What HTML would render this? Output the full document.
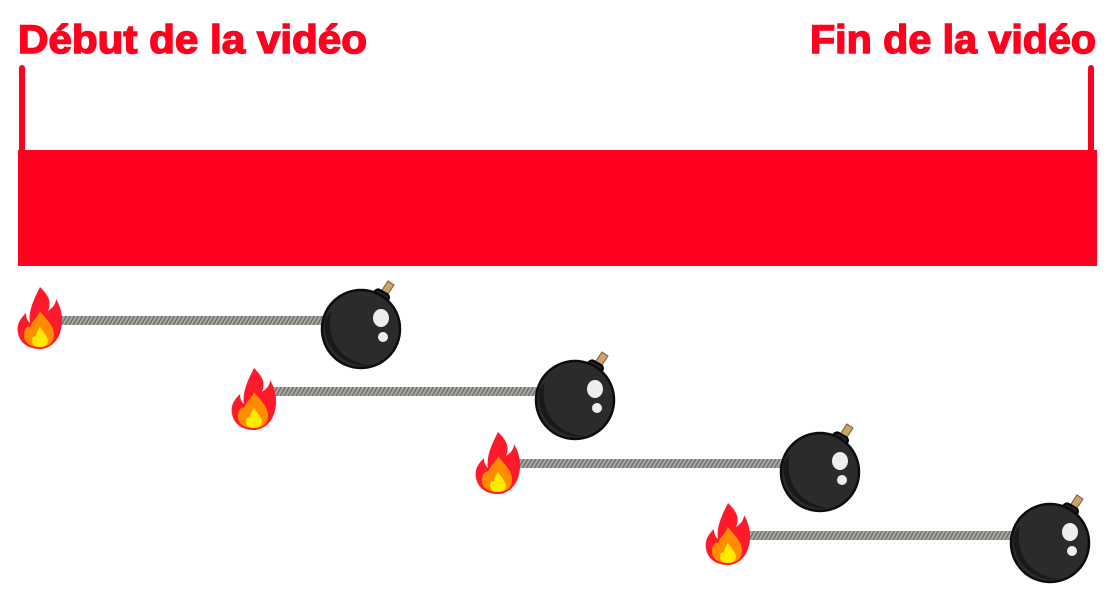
<!DOCTYPE html>
<html><head><meta charset="utf-8"><style>
html,body{margin:0;padding:0;background:#fff;width:1114px;height:601px;overflow:hidden}
</style></head><body>
<svg width="1114" height="601" viewBox="0 0 1114 601" xmlns="http://www.w3.org/2000/svg">
<defs>
<pattern id="rope" width="4" height="10" patternUnits="userSpaceOnUse" patternTransform="skewX(-30)">
<rect width="4" height="10" fill="#a9a9a3"/><rect width="1.6" height="10" fill="#6f6f6a"/>
</pattern>
<g id="flame">
<path d="M22,0 C30,8 34,14 30,24 C36,20 38,16 38,12 C44,22 46,34 42,46 C38,58 28,62 22,62 C10,62 2,56 0,46 C-2,36 4,30 8,26 C8,32 10,34 12,36 C10,24 16,12 22,0 Z" fill="#ff1a2b"/>
<path d="M22,24 C28,32 36,38 36,48 C36,56 30,60 22,60 C12,60 6,56 6,48 C6,42 10,38 12,40 C14,34 20,30 22,24 Z" fill="#ff8c00"/>
<path d="M22,40 C26,46 30,50 30,54 C30,58 26,60 22,60 C17,60 14,58 14,54 C14,50 16,48 18,50 C18,46 20,43 22,40 Z" fill="#ffea00"/>
</g>
<g id="bomb">
<path d="M19,-36 L27,-48 L33,-44 L25,-32 Z" fill="#c9a26e" stroke="#7a5a30" stroke-width="1"/>
<rect x="11" y="-38" width="16" height="13" rx="4" transform="rotate(30 19 -31)" fill="#222" stroke="#000" stroke-width="2"/>
<circle cx="0" cy="0" r="39" fill="#2c2a2b" stroke="#0c0c0c" stroke-width="2.5"/>
<path d="M-30,-18 C-36,10 -20,34 10,36 C-14,40 -40,20 -36,-10 Z" fill="#1a1919"/>
<ellipse cx="20" cy="-11" rx="8" ry="9" fill="#eee"/>
<circle cx="22" cy="8" r="5" fill="#eee"/>
</g>
</defs>
<text x="18" y="53" font-family="Liberation Sans, sans-serif" font-weight="bold" font-size="40" fill="#ff001f" stroke="#ff001f" stroke-width="1.5" textLength="349" lengthAdjust="spacingAndGlyphs">Début de la vidéo</text>
<text x="1096" y="53" text-anchor="end" font-family="Liberation Sans, sans-serif" font-weight="bold" font-size="40" fill="#ff001f" stroke="#ff001f" stroke-width="1.5" textLength="286" lengthAdjust="spacingAndGlyphs">Fin de la vidéo</text>
<line x1="22" y1="68" x2="22" y2="160" stroke="#ff001f" stroke-width="6" stroke-linecap="round"/>
<line x1="1091" y1="68" x2="1091" y2="160" stroke="#ff001f" stroke-width="6" stroke-linecap="round"/>
<rect x="18" y="150" width="1079" height="116" fill="#ff001f"/>

<rect x="58" y="316" width="270" height="9" fill="url(#rope)"/>
<use href="#flame" x="18" y="287"/>
<use href="#bomb" x="361" y="329"/>

<rect x="272" y="387" width="270" height="9" fill="url(#rope)"/>
<use href="#flame" x="232" y="368"/>
<use href="#bomb" x="575" y="400"/>

<rect x="516" y="459" width="270" height="9" fill="url(#rope)"/>
<use href="#flame" x="476" y="432"/>
<use href="#bomb" x="820" y="472"/>

<rect x="746" y="531" width="270" height="9" fill="url(#rope)"/>
<use href="#flame" x="706" y="503"/>
<use href="#bomb" x="1050" y="543"/>
</svg>
</body></html>
